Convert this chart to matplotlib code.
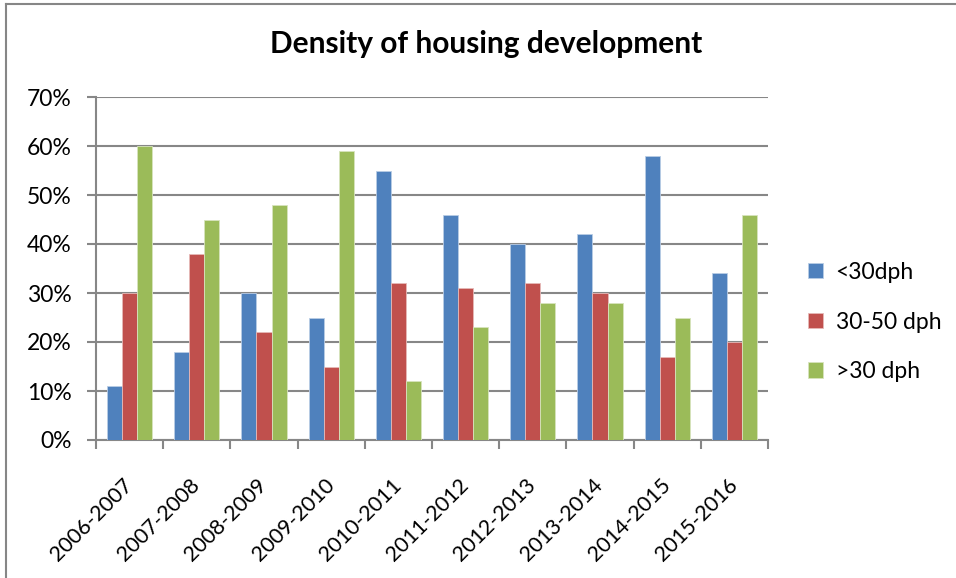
import matplotlib.pyplot as plt
from matplotlib.lines import Line2D
from matplotlib.ticker import FuncFormatter, MultipleLocator
from matplotlib.transforms import ScaledTranslation
import numpy as np

plt.rcParams['font.family'] = ['Lato', 'DejaVu Sans']

years = ['2006-2007', '2007-2008', '2008-2009', '2009-2010', '2010-2011',
         '2011-2012', '2012-2013', '2013-2014', '2014-2015', '2015-2016']
below_30 = [11, 18, 30, 25, 55, 46, 40, 42, 58, 34]
mid_30_50 = [30, 38, 22, 15, 32, 31, 32, 30, 17, 20]
above_30 = [60, 45, 48, 59, 12, 23, 28, 28, 25, 46]
series_names = ['<30dph', '30-50 dph', '>30 dph']
colors = ['#4F81BD', '#C0504D', '#9BBB59']
edges = ['#B9CDE5', '#E6B9B8', '#D7E4BD']

fig = plt.figure(figsize=(9.56, 5.78), dpi=100)
ax = fig.add_axes([96 / 956, 1 - 440 / 578, (768 - 96) / 956, (440 - 97) / 578])

x = np.arange(len(years))
w = 0.225
for i, vals in enumerate([below_30, mid_30_50, above_30]):
    ax.bar(x + (i - 1) * w, vals, width=w, color=colors[i], edgecolor=edges[i],
           linewidth=0.6, label=series_names[i], zorder=3)

ax.set_xlim(-0.5, len(years) - 0.5)
ax.set_ylim(0, 70)
ax.yaxis.set_major_locator(MultipleLocator(10))
ax.yaxis.set_major_formatter(FuncFormatter(lambda v, p: '%d%%' % v))
ax.grid(axis='y', color='#878787', linewidth=1.5, zorder=0)

ax.set_xticks(np.arange(-0.5, len(years), 1.0))
ax.set_xticklabels([])
ax.set_xticks(x, minor=True)
ax.set_xticklabels(years, minor=True, rotation=45, ha='right', va='center',
                   rotation_mode='anchor', fontsize=15.5)
offset = ScaledTranslation(7 / 100, 0, fig.dpi_scale_trans)
for lab in ax.get_xticklabels(minor=True):
    lab.set_transform(lab.get_transform() + offset)
ax.tick_params(axis='x', which='minor', length=0, pad=30)
ax.tick_params(axis='x', which='major', length=6.5, width=1.5, color='#878787')
ax.tick_params(axis='y', length=6.5, width=1.5, color='#878787', labelsize=16.5, pad=11)

for s in ['top', 'right']:
    ax.spines[s].set_visible(False)
for s in ['left', 'bottom']:
    ax.spines[s].set_color('#878787')
    ax.spines[s].set_linewidth(1.5)

ax.legend(loc='center left', bbox_to_anchor=(1.029, 0.344), frameon=False,
          fontsize=16.5, handlelength=0.65, handleheight=0.65, handletextpad=0.55,
          labelspacing=1.25)

fig.text(0.508, 0.924, 'Density of housing development', ha='center', va='center',
         fontsize=21.5, fontweight='bold')

fig.add_artist(Line2D([6 / 956, 6 / 956], [0, 1 - 4 / 578], color='#868686', linewidth=1.5))
fig.add_artist(Line2D([6 / 956, 1], [1 - 4 / 578, 1 - 4 / 578], color='#868686', linewidth=1.5))

fig.savefig('out.png', dpi=100)
